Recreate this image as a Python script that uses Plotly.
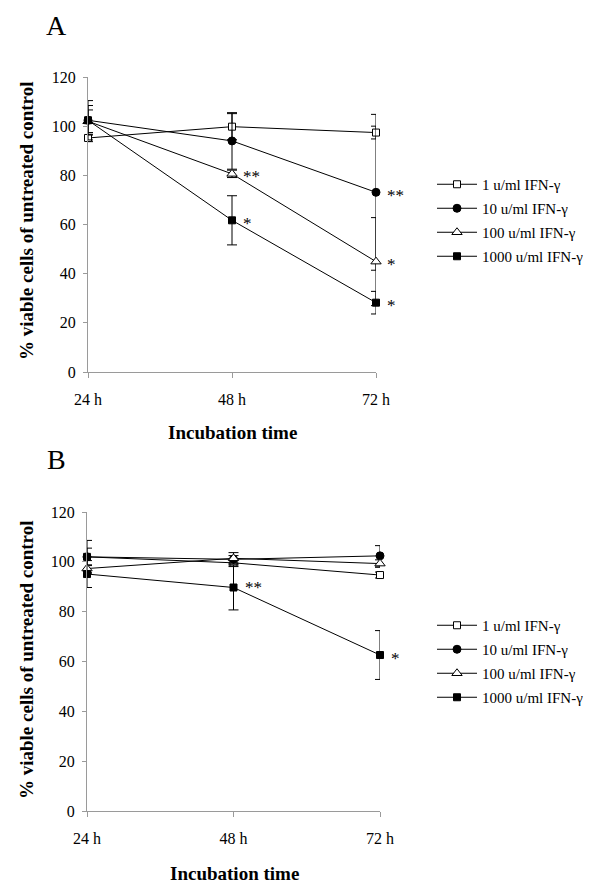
import plotly.graph_objects as go

# ---------------- data ----------------
times = ["24 h", "48 h", "72 h"]
series_names = ["1 u/ml IFN-γ", "10 u/ml IFN-γ", "100 u/ml IFN-γ", "1000 u/ml IFN-γ"]

# Panel A
a_1 = [95.2, 99.8, 97.4]
a_1_err = [1.5, 5.3, 2.6]
a_10 = [102.4, 94.0, 73.1]
a_10_err = [6.0, 11.5, 31.7]
a_100 = [102.0, 80.6, 44.9]
a_100_err = [4.6, 1.5, 17.9]
a_1000 = [102.4, 61.7, 28.2]
a_1000_err = [8.0, 10.0, 4.6]

# Panel B
b_1 = [102.0, 99.6, 94.7]
b_1_err = [6.6, 1.5, 1.2]
b_10 = [102.0, 101.0, 102.4]
b_10_err = [3.5, 1.5, 4.1]
b_100 = [97.3, 101.4, 99.3]
b_100_err = [1.5, 2.3, 1.5]
b_1000 = [95.1, 89.7, 62.6]
b_1000_err = [5.4, 9.0, 9.8]

# significance marks: (time index, value, text)
a_marks = [(1, 80.6, "**"), (1, 61.7, "*"), (2, 73.1, "**"), (2, 44.9, "*"), (2, 28.2, "*")]
b_marks = [(1, 91.0, "**"), (2, 62.6, "*")]

y_ticks = [0, 20, 40, 60, 80, 100, 120]

# ---------------- styles ----------------
FONT = "Liberation Serif, Times New Roman, serif"
AXC = "#9a9a9a"
styles = [
    dict(symbol="square", color="white", size=7),
    dict(symbol="circle", color="black", size=8),
    dict(symbol="triangle-up", color="white", size=9),
    dict(symbol="square", color="black", size=7),
]

# the page body has an 8px margin: the figure is sized to fill the rest of the window
OFF = 8
W, H = 600 - OFF, 887 - OFF
fig = go.Figure()

panels = [
    ("x", "y", "legend", [a_1, a_10, a_100, a_1000], [a_1_err, a_10_err, a_100_err, a_1000_err]),
    ("x2", "y2", "legend2", [b_1, b_10, b_100, b_1000], [b_1_err, b_10_err, b_100_err, b_1000_err]),
]
xpos = [0, 1, 2]
for xa, ya, lg, vals, errs in panels:
    for i, (name, v, e) in enumerate(zip(series_names, vals, errs)):
        st = styles[i]
        fig.add_trace(go.Scatter(
            x=xpos, y=v, name=name, xaxis=xa, yaxis=ya, legend=lg,
            legendgroup=f"{lg}{i}",
            mode="lines+markers", cliponaxis=False,
            line=dict(color="black", width=1),
            marker=dict(symbol=st["symbol"], color=st["color"], size=st["size"],
                        line=dict(color="black", width=1)),
            error_y=dict(type="data", array=e, visible=True, color="black",
                         thickness=1, width=5),
        ))

def px_x(p):
    return (p - OFF) / W

def px_y(p):
    return 1 - (p - OFF) / H

# axes
common_x = dict(range=[0, 2], tickvals=xpos, ticktext=times, showline=True, linecolor=AXC,
                linewidth=1, ticks="outside", ticklen=5, tickcolor=AXC, showgrid=False,
                zeroline=False, tickfont=dict(family=FONT, size=16, color="black"),
                ticklabelstandoff=8, fixedrange=True, automargin=False)
common_y = dict(range=[0, 120], tickvals=y_ticks, showline=True, linecolor=AXC, linewidth=1,
                ticks="outside", ticklen=4, tickcolor=AXC, showgrid=False, zeroline=False,
                tickfont=dict(family=FONT, size=16, color="black"), ticklabelstandoff=4,
                fixedrange=True, automargin=False)

fig.update_layout(
    width=W, height=H, margin=dict(l=0, r=0, t=0, b=0, autoexpand=False),
    paper_bgcolor="white", plot_bgcolor="white",
    font=dict(family=FONT, color="black"),
    xaxis=dict(domain=[px_x(88), px_x(376)], anchor="y", **common_x),
    yaxis=dict(domain=[px_y(372), px_y(77)], anchor="x", **common_y),
    xaxis2=dict(domain=[px_x(87), px_x(380)], anchor="y2", **common_x),
    yaxis2=dict(domain=[px_y(811), px_y(512)], anchor="x2", **common_y),
    legend=dict(x=px_x(432), y=px_y(168), xanchor="left", yanchor="top",
                font=dict(family=FONT, size=15, color="black"), tracegroupgap=1.5,
                bgcolor="rgba(0,0,0,0)", itemwidth=40),
    legend2=dict(x=px_x(432), y=px_y(609), xanchor="left", yanchor="top",
                 font=dict(family=FONT, size=15, color="black"), tracegroupgap=1.5,
                 bgcolor="rgba(0,0,0,0)", itemwidth=40),
    showlegend=True,
)

ann = []
for xr, yr, marks in [("x", "y", a_marks), ("x2", "y2", b_marks)]:
    for ti, v, t in marks:
        ann.append(dict(x=ti, y=v, xref=xr, yref=yr, text=t, showarrow=False,
                        xanchor="left", yanchor="middle", xshift=9, yshift=-3,
                        font=dict(family=FONT, size=17, color="black")))

# panel letters and axis titles
ann.append(dict(x=px_x(56), y=1.0, xref="paper", yref="paper", text="A",
                showarrow=False, xanchor="center", yanchor="top",
                font=dict(family=FONT, size=28, color="black")))
ann.append(dict(x=px_x(56), y=px_y(459), xref="paper", yref="paper", text="B",
                showarrow=False, xanchor="center", yanchor="middle",
                font=dict(family=FONT, size=28, color="black")))
for xc, yc in [(232, 433), (234, 873)]:
    ann.append(dict(x=px_x(xc), y=px_y(yc), xref="paper", yref="paper",
                    text="<b>Incubation time</b>", showarrow=False,
                    xanchor="center", yanchor="middle",
                    font=dict(family=FONT, size=19, color="black")))
for yc in [221, 660]:
    ann.append(dict(x=px_x(26), y=px_y(yc), xref="paper", yref="paper",
                    text="<b>% viable cells of untreated control</b>", showarrow=False,
                    textangle=-90, xanchor="center", yanchor="middle",
                    font=dict(family=FONT, size=19, color="black")))
fig.update_layout(annotations=ann)

fig.write_html("out.html")
